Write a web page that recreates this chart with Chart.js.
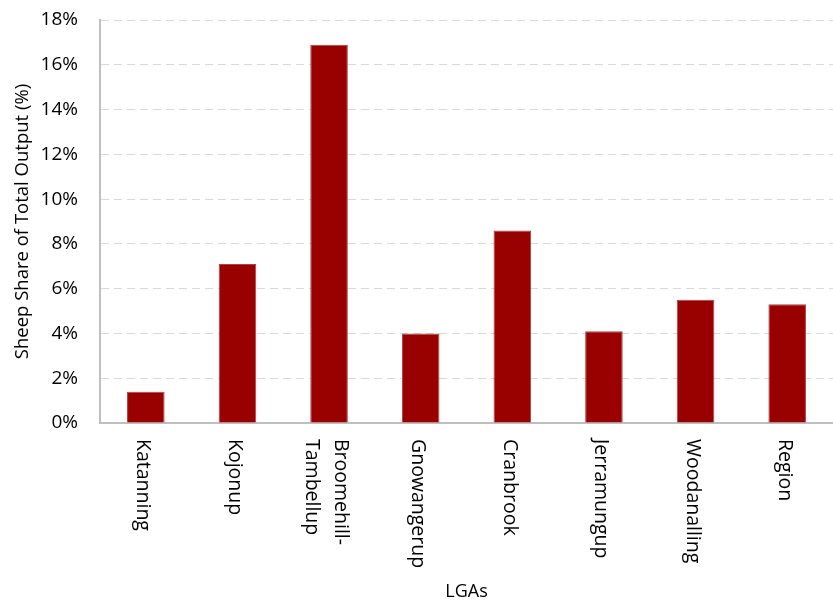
<!DOCTYPE html>
<html>
<head>
<meta charset="utf-8">
<script src="https://cdn.jsdelivr.net/npm/chart.js@4"></script>
<style>
  body { margin: 0; background: #fff; }
  #grafico { display: block; }
</style>
</head>
<body>
<canvas id="grafico" width="833" height="603"></canvas>
<script>
// dados
const lgas = ['Katanning', 'Kojonup', ['Broomehill-', 'Tambellup'], 'Gnowangerup', 'Cranbrook', 'Jerramungup', 'Woodanalling', 'Region']
const partilhaOvinos = [1.4, 7.1, 16.9, 4.0, 8.6, 4.1, 5.5, 5.3]
const ticksY = [0, 2, 4, 6, 8, 10, 12, 14, 16, 18]

const fonte = '"Open Sans", sans-serif'

// rotulos do eixo x girados no sentido horario (de cima para baixo)
const rotulosGirados = {
  id: 'rotulosGirados',
  afterDraw(chart) {
    const { ctx, scales: { x, y } } = chart
    ctx.save()
    ctx.font = '19.5px ' + fonte
    ctx.fillStyle = '#000'
    ctx.textAlign = 'left'
    ctx.textBaseline = 'middle'
    const alturaLinha = 29
    lgas.forEach((nome, i) => {
      const linhas = Array.isArray(nome) ? nome : [nome]
      const cx = x.getPixelForValue(i)
      linhas.forEach((linha, j) => {
        const desloc = (linhas.length - 1) / 2 * alturaLinha - j * alturaLinha
        ctx.save()
        ctx.translate(cx + desloc - 3, y.bottom + 16)
        ctx.rotate(Math.PI / 2)
        ctx.fillText(linha, 0, 0)
        ctx.restore()
      })
    })
    ctx.restore()
  }
}

const ctx = document.getElementById('grafico')

new Chart(ctx, {
  type: 'bar',
  data: {
    labels: lgas,
    datasets: [{
      label: 'Sheep Share of Total Output (%)',
      data: partilhaOvinos,
      backgroundColor: '#990000',
      borderColor: '#b04040',
      borderWidth: { top: 1, left: 1, right: 1, bottom: 0 },
      barPercentage: 0.41,
      categoryPercentage: 1
    }]
  },
  options: {
    responsive: false,
    animation: false,
    layout: {
      padding: { top: 0, right: 0, left: 12, bottom: 0 }
    },
    plugins: {
      legend: { display: false },
      tooltip: { enabled: false }
    },
    scales: {
      x: {
        grid: { display: false },
        border: { color: '#bfbfbf', width: 2 },
        ticks: { display: false },
        afterFit: (escala) => { escala.height = 180 },
        title: {
          display: true,
          text: 'LGAs',
          color: '#000',
          font: { family: fonte, size: 18 },
          padding: { top: 0, bottom: 0 }
        }
      },
      y: {
        min: 0,
        max: 18,
        afterBuildTicks: (escala) => { escala.ticks = ticksY.map(v => ({ value: v })) },
        afterFit: (escala) => {
          escala.width = 88
          escala.paddingTop = 20
        },
        grid: {
          color: '#d9d9d9',
          lineWidth: 1,
          drawTicks: false
        },
        border: { color: '#bfbfbf', width: 2, dash: [8, 5] },
        ticks: {
          color: '#000',
          padding: 22,
          font: { family: fonte, size: 19 },
          callback: (v) => v + '%'
        },
        title: {
          display: true,
          text: 'Sheep Share of Total Output (%)',
          color: '#000',
          font: { family: fonte, size: 18.5 },
          padding: { top: 0, bottom: 0 }
        }
      }
    }
  },
  plugins: [rotulosGirados]
})
</script>
</body>
</html>
